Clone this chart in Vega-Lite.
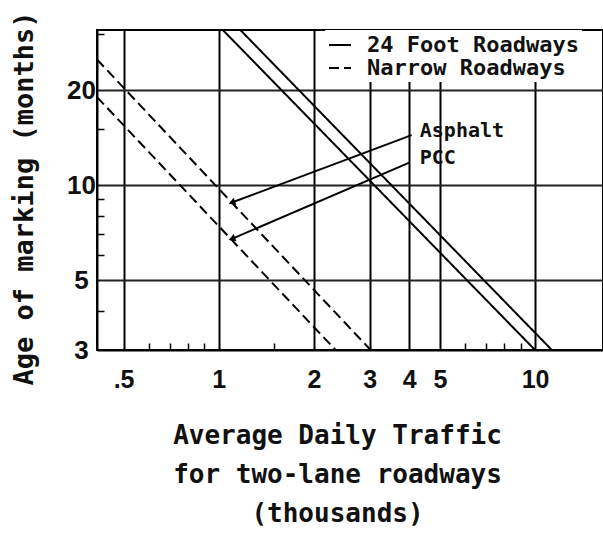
{
  "$schema": "https://vega.github.io/schema/vega-lite/v6.json",
  "autosize": "none",
  "width": 506,
  "height": 320,
  "padding": {"left": 97, "top": 30, "right": 0, "bottom": 185},
  "background": "white",
  "config": {"view": {"stroke": "black", "strokeWidth": 2}},
  "datasets": {
    "curves": [
      {"series": "24 Foot Asphalt", "type": "24 Foot Roadways", "x": 1.17, "y": 31},
      {"series": "24 Foot Asphalt", "type": "24 Foot Roadways", "x": 11.3, "y": 3},
      {"series": "24 Foot PCC", "type": "24 Foot Roadways", "x": 1.03, "y": 31},
      {"series": "24 Foot PCC", "type": "24 Foot Roadways", "x": 10, "y": 3},
      {"series": "Narrow Asphalt", "type": "Narrow Roadways", "x": 0.412, "y": 25},
      {"series": "Narrow Asphalt", "type": "Narrow Roadways", "x": 3.02, "y": 3},
      {"series": "Narrow PCC", "type": "Narrow Roadways", "x": 0.412, "y": 19},
      {"series": "Narrow PCC", "type": "Narrow Roadways", "x": 2.34, "y": 3}
    ],
    "arrows": [
      {"series": "Asphalt", "end": false, "x": 4.07, "y": 14.4},
      {"series": "Asphalt", "end": true, "x": 1.1, "y": 8.8},
      {"series": "PCC", "end": false, "x": 4.02, "y": 11.8},
      {"series": "PCC", "end": true, "x": 1.1, "y": 6.75}
    ],
    "labels": [
      {"label": "Asphalt", "x": 4.32, "y": 14.8},
      {"label": "PCC", "x": 4.32, "y": 12.2}
    ]
  },
  "encoding": {
    "x": {
      "field": "x", "type": "quantitative",
      "scale": {"type": "log", "domain": [0.412, 16.4], "nice": false, "zero": false},
      "axis": {
        "values": [0.5, 0.6, 0.7, 0.8, 0.9, 1, 1.5, 2, 3, 4, 5, 6, 7, 8, 9, 10],
        "labelExpr": "datum.value == 0.5 ? '.5' : (indexof([1,2,3,4,5,10], datum.value) >= 0 ? toString(datum.value) : '')",
        "labelFont": "Liberation Sans", "labelFontSize": 25, "labelFontWeight": "bold", "labelColor": "#111",
        "labelBaseline": "middle", "labelPadding": 36, "labelOverlap": false, "labelFlush": false, "labelBound": false,
        "domainColor": "black", "domainWidth": 2,
        "tickSize": -7, "tickWidth": 1.5, "tickColor": "black",
        "tickOpacity": {"condition": {"test": "indexof([0.5,1,2,3,4,5,10], datum.value) >= 0", "value": 0}, "value": 1},
        "grid": true, "gridColor": "black", "gridWidth": 2,
        "gridOpacity": {"condition": {"test": "indexof([0.5,1,2,3,4,5,10], datum.value) >= 0", "value": 1}, "value": 0},
        "title": ["Average Daily Traffic", "for two-lane roadways", "(thousands)"],
        "titleFont": "DejaVu Sans Mono", "titleFontSize": 26, "titleFontWeight": "bold", "titleColor": "#111",
        "titleX": 240, "titleY": 93, "titleAlign": "center", "titleBaseline": "alphabetic", "titleLineHeight": 39
      }
    },
    "y": {
      "field": "y", "type": "quantitative",
      "scale": {"type": "log", "domain": [3, 31], "nice": false, "zero": false},
      "axis": {
        "values": [3, 4, 5, 6, 7, 8, 9, 10, 15, 20, 30],
        "labelExpr": "indexof([3,5,10,20], datum.value) >= 0 ? toString(datum.value) : ''",
        "labelFont": "Liberation Sans", "labelFontSize": 26, "labelFontWeight": "bold", "labelColor": "#111",
        "labelAlign": "center", "labelBaseline": "middle", "labelPadding": 23, "labelOverlap": false, "labelFlush": false, "labelBound": false,
        "domainColor": "black", "domainWidth": 2,
        "tickSize": -7, "tickWidth": 1.5, "tickColor": "black",
        "tickOpacity": {"condition": {"test": "indexof([3,5,10,20], datum.value) >= 0", "value": 0}, "value": 1},
        "grid": true, "gridColor": "#222", "gridWidth": 2,
        "gridOpacity": {"condition": {"test": "indexof([5,10,20], datum.value) >= 0", "value": 1}, "value": 0},
        "title": "Age of marking (months)",
        "titleFont": "DejaVu Sans Mono", "titleFontSize": 27, "titleFontWeight": "bold", "titleColor": "#111",
        "titleAngle": 270, "titleX": -65, "titleY": 168, "titleAlign": "center", "titleBaseline": "alphabetic"
      }
    }
  },
  "layer": [
    {
      "data": {"name": "curves"},
      "mark": {"type": "line", "color": "black", "strokeWidth": 2, "clip": true},
      "encoding": {
        "detail": {"field": "series", "type": "nominal"},
        "strokeDash": {
          "field": "type", "type": "nominal",
          "scale": {"domain": ["24 Foot Roadways", "Narrow Roadways"], "range": [[1, 0], [10, 5]]},
          "legend": {
            "orient": "none", "legendX": 228, "legendY": 0, "title": null,
            "symbolType": "stroke", "symbolSize": 484, "symbolStrokeWidth": 2, "symbolStrokeColor": "black",
            "labelFont": "DejaVu Sans Mono", "labelFontSize": 22, "labelFontWeight": "bold", "labelColor": "#111",
            "labelOffset": 15, "labelLimit": 400, "fillColor": "white", "padding": 3, "rowPadding": 0
          }
        }
      }
    },
    {
      "data": {"name": "arrows"},
      "mark": {"type": "line", "color": "black", "strokeWidth": 2},
      "encoding": {"detail": {"field": "series", "type": "nominal"}}
    },
    {
      "data": {"name": "arrows"},
      "transform": [{"filter": "datum.end"}],
      "mark": {"type": "point", "shape": "triangle-left", "filled": true, "color": "black", "size": 60, "angle": 339, "opacity": 1}
    },
    {
      "data": {"name": "labels"},
      "mark": {"type": "text", "align": "left", "baseline": "middle", "font": "DejaVu Sans Mono", "fontSize": 20, "fontWeight": "bold", "color": "#111"},
      "encoding": {"text": {"field": "label", "type": "nominal"}}
    }
  ]
}
